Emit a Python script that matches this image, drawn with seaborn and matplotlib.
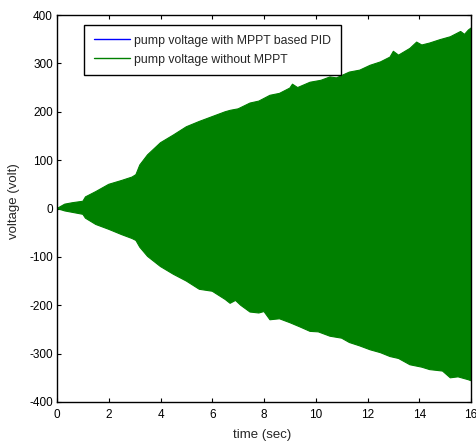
import matplotlib
matplotlib.use("Agg")
import matplotlib.pyplot as plt
import seaborn as sns
import numpy as np
import pandas as pd
from matplotlib.lines import Line2D

sns.set_style("white")
plt.rcParams['font.family'] = ['Liberation Sans', 'DejaVu Sans']

# upper envelope of the "without MPPT" signal
upper_t = [0.0, 0.3, 0.6, 1.0, 1.1, 1.5, 2.0, 2.5, 2.9, 3.05, 3.2, 3.5, 4.0, 4.5, 5.0,
           5.5, 6.0, 6.5, 6.7, 7.0, 7.46, 7.8, 8.23, 8.6, 9.0, 9.1, 9.3, 9.78, 10.2,
           10.55, 10.8, 11.3, 11.7, 12.1, 12.5, 12.87, 13.0, 13.2, 13.64, 13.9, 14.1,
           14.4, 14.8, 15.2, 15.6, 15.75, 15.9, 16.0]
upper_v = [0, 9, 12, 15, 24, 35, 50, 58, 65, 70, 90, 111, 136, 152, 169,
           180, 190, 200, 203, 206, 218, 222, 234, 238, 249, 257, 250, 261, 265,
           272, 270, 282, 286, 296, 303, 313, 325, 317, 331, 344, 338,
           342, 349, 355, 366, 360, 369, 373]
# lower envelope
lower_t = [0.0, 0.3, 0.6, 1.0, 1.1, 1.5, 2.0, 2.5, 2.9, 3.05, 3.2, 3.5, 4.0, 4.5, 5.0,
           5.5, 6.0, 6.5, 6.69, 6.9, 7.1, 7.46, 7.8, 8.0, 8.23, 8.6, 9.0, 9.4, 9.78,
           10.1, 10.55, 11.0, 11.3, 11.7, 12.1, 12.5, 12.87, 13.2, 13.64, 14.1, 14.4,
           14.9, 15.2, 15.5, 15.9, 16.0]
lower_v = [0, -5, -8, -12, -20, -33, -43, -54, -62, -66, -80, -99, -120, -136, -150,
           -167, -171, -188, -196, -190, -200, -214, -216, -213, -230, -228, -236, -245, -254,
           -255, -264, -268, -277, -284, -292, -298, -306, -310, -323, -328, -333,
           -336, -350, -348, -354, -356]

series_labels = ["pump voltage with MPPT based PID", "pump voltage without MPPT"]
xticks = [0, 2, 4, 6, 8, 10, 12, 14, 16]
yticks = [-400, -300, -200, -100, 0, 100, 200, 300, 400]

GREEN = "#008000"
BLUE = "#0000ff"

fig = plt.figure(figsize=(4.76, 4.43), dpi=100)
ax = fig.add_axes([57/476, 41/443, 414/476, 387/443])

up = pd.DataFrame({"t": upper_t, "v": upper_v})
lo = pd.DataFrame({"t": lower_t, "v": lower_v})
poly_t = list(up["t"]) + list(lo["t"])[::-1]
poly_v = list(up["v"]) + list(lo["v"])[::-1]
ax.fill(poly_t, poly_v, color=GREEN, linewidth=0)
sns.lineplot(data=up, x="t", y="v", ax=ax, color=GREEN, linewidth=0.8)
sns.lineplot(data=lo, x="t", y="v", ax=ax, color=GREEN, linewidth=0.8)

ax.set_xlim(0, 16)
ax.set_ylim(-400, 400)
ax.set_xticks(xticks)
ax.set_yticks(yticks)
ax.set_xticklabels([str(v) for v in xticks], fontsize=8.5)
ax.set_yticklabels([str(v) for v in yticks], fontsize=8.5)
ax.tick_params(axis="x", pad=5)
ax.tick_params(axis="y", pad=3)
ax.tick_params(direction="in", length=3, width=0.8, top=True, right=True,
               bottom=True, left=True, colors="black")
for s in ax.spines.values():
    s.set_visible(True)
    s.set_color("black")
    s.set_linewidth(1.0)
ax.set_xlabel("time (sec)", fontsize=9.5)
ax.set_ylabel("voltage (volt)", fontsize=9.5)
ax.xaxis.set_label_coords(205/414, -27/387)
ax.yaxis.set_label_coords(-37/414, 0.52)

handles = [Line2D([], [], color=BLUE, linewidth=1), Line2D([], [], color=GREEN, linewidth=1)]
leg = ax.legend(handles, series_labels, loc="upper left", bbox_to_anchor=(27/414, 377/387),
                fontsize=8.8, frameon=True, fancybox=False, framealpha=1,
                edgecolor="black", borderpad=0.8, handlelength=3.0, handletextpad=0.3,
                labelspacing=0.55, borderaxespad=0)
leg.get_frame().set_linewidth(1.0)

fig.savefig("out.png", dpi=100)
